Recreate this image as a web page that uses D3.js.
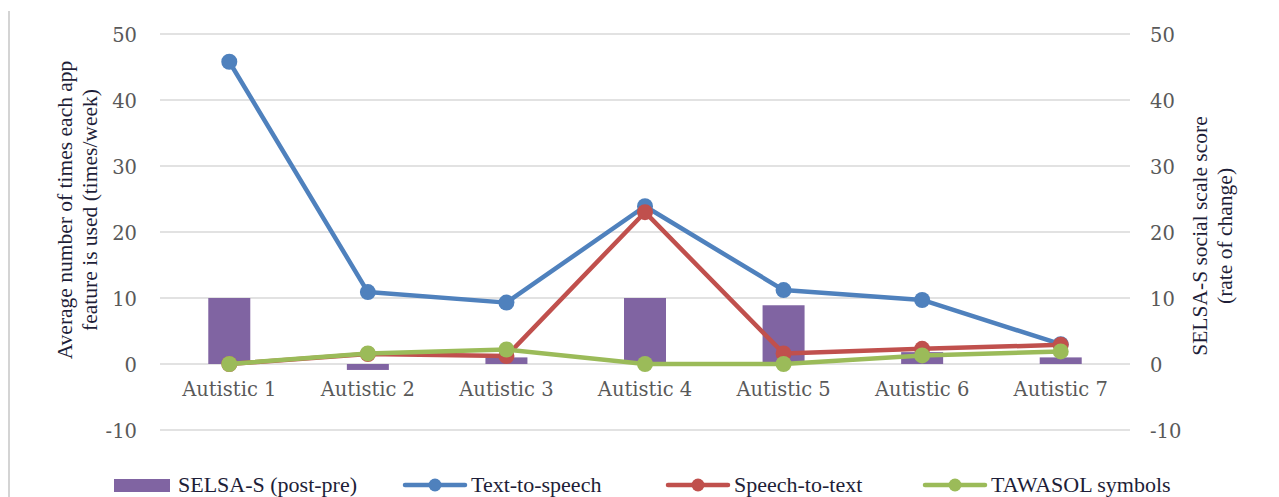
<!DOCTYPE html>
<html>
<head>
<meta charset="utf-8">
<script src="https://cdn.jsdelivr.net/npm/d3@7"></script>
<style>
  html, body { margin: 0; padding: 0; background: #ffffff; }
  svg { display: block; }
  .serif { font-family: "Liberation Serif", "Times New Roman", serif; }
  .tick-font { font-family: "DejaVu Serif"; }
</style>
</head>
<body>
<svg id="chart" width="1279" height="497"></svg>
<script>
// Participants
const categories = ["Autistic 1", "Autistic 2", "Autistic 3", "Autistic 4", "Autistic 5", "Autistic 6", "Autistic 7"];

// SELSA-S change (post - pre), right axis
const selsaChange = [10, -0.9, 1, 10, 8.9, 1.8, 1];

// Average weekly use of each app feature, left axis
const textToSpeech = [45.8, 10.9, 9.3, 23.9, 11.2, 9.7, 3.0];
const speechToText = [0, 1.5, 1.2, 23.0, 1.6, 2.3, 2.9];
const tawasolSymbols = [0, 1.6, 2.2, 0, 0, 1.3, 1.9];

const yTicks = [-10, 0, 10, 20, 30, 40, 50];

const lineSeries = [
  { name: "Text-to-speech", values: textToSpeech, color: "#4F81BD" },
  { name: "Speech-to-text", values: speechToText, color: "#C0504D" },
  { name: "TAWASOL symbols", values: tawasolSymbols, color: "#9BBB59" }
];
const barColor = "#8064A2";

const svg = d3.select("#chart");

const x = d3.scaleBand().domain(categories).range([160, 1130]).padding(0);
const yLeft = d3.scaleLinear().domain([-10, 50]).range([430, 34]);
const yRight = d3.scaleLinear().domain([-10, 50]).range([430, 34]);

// page border on the left
svg.append("line")
  .attr("x1", 9).attr("x2", 9).attr("y1", 11).attr("y2", 497)
  .attr("stroke", "#d4d4d4").attr("stroke-width", 2);

// gridlines
svg.append("g").selectAll("line").data(yTicks).join("line")
  .attr("x1", 160).attr("x2", 1130)
  .attr("y1", d => yLeft(d)).attr("y2", d => yLeft(d))
  .attr("stroke", "#d9d9d9").attr("stroke-width", 1.3);

const tickSize = 19.5;
const plainNumber = d => String(d);

// left axis labels
const leftAxis = d3.axisLeft(yLeft).tickValues(yTicks).tickFormat(plainNumber).tickSize(0).tickPadding(0);
const gl = svg.append("g").attr("transform", "translate(137,0)").call(leftAxis);
gl.select(".domain").remove();
gl.selectAll("text").attr("class", "tick-font").attr("font-size", tickSize)
  .attr("fill", "#595959").attr("dy", "0.36em");

// right axis labels
const rightAxis = d3.axisRight(yRight).tickValues(yTicks).tickFormat(plainNumber).tickSize(0).tickPadding(0);
const gr = svg.append("g").attr("transform", "translate(1150,0)").call(rightAxis);
gr.select(".domain").remove();
gr.selectAll("text").attr("class", "tick-font").attr("font-size", tickSize)
  .attr("fill", "#595959").attr("dy", "0.36em");

// category labels
const bottomAxis = d3.axisBottom(x).tickSize(0).tickPadding(0);
const gb = svg.append("g").attr("transform", "translate(0,382)").call(bottomAxis);
gb.select(".domain").remove();
gb.selectAll("text").attr("class", "tick-font").attr("font-size", tickSize)
  .attr("fill", "#595959").attr("dy", "0.74em");

// the axis groups carry their own font attributes; let the classes decide
svg.selectAll("g").attr("font-family", null);

// SELSA-S bars
const barW = 42;
svg.append("g").selectAll("rect").data(categories).join("rect")
  .attr("x", d => x(d) + x.bandwidth() / 2 - barW / 2)
  .attr("width", barW)
  .attr("y", (d, i) => yRight(Math.max(0, selsaChange[i])))
  .attr("height", (d, i) => Math.abs(yRight(selsaChange[i]) - yRight(0)))
  .attr("fill", barColor);

// feature usage lines
const line = d3.line()
  .x((d, i) => x(categories[i]) + x.bandwidth() / 2)
  .y(d => yLeft(d));

lineSeries.forEach(s => {
  const g = svg.append("g");
  g.append("path").datum(s.values)
    .attr("d", line).attr("fill", "none")
    .attr("stroke", s.color).attr("stroke-width", 4.5)
    .attr("stroke-linejoin", "round").attr("stroke-linecap", "round");
  g.selectAll("circle").data(s.values).join("circle")
    .attr("cx", (d, i) => x(categories[i]) + x.bandwidth() / 2)
    .attr("cy", d => yLeft(d))
    .attr("r", 8)
    .attr("fill", s.color);
});

// axis titles
const titleColor = "#1e1e38";
const leftTitle = svg.append("text")
  .attr("class", "serif")
  .attr("transform", "translate(72,210) rotate(-90)")
  .attr("text-anchor", "middle")
  .attr("font-size", 21.5)
  .attr("fill", titleColor);
leftTitle.append("tspan").attr("x", 0).attr("dy", 0).text("Average number of times each app");
leftTitle.append("tspan").attr("x", 0).attr("dy", 25).text("feature is used (times/week)");

const rightTitle = svg.append("text")
  .attr("class", "serif")
  .attr("transform", "translate(1207,236) rotate(-90)")
  .attr("text-anchor", "middle")
  .attr("font-size", 21.5)
  .attr("fill", titleColor);
rightTitle.append("tspan").attr("x", 0).attr("dy", 0).text("SELSA-S social scale score");
rightTitle.append("tspan").attr("x", 0).attr("dy", 25).text("(rate of change)");

// legend
const legendY = 485;
const legendFont = 22;
const legend = svg.append("g");
legend.append("rect").attr("x", 114).attr("y", legendY - 6).attr("width", 56).attr("height", 13)
  .attr("fill", barColor);
legend.append("text").attr("class", "serif").attr("x", 178).attr("y", legendY).attr("dy", "0.3em")
  .attr("font-size", legendFont).attr("fill", titleColor)
  .text("SELSA-S (post-pre)");

const legendX = [405, 668, 925];
lineSeries.forEach((s, i) => {
  const lx = legendX[i];
  legend.append("line").attr("x1", lx).attr("x2", lx + 60)
    .attr("y1", legendY).attr("y2", legendY)
    .attr("stroke", s.color).attr("stroke-width", 4.5).attr("stroke-linecap", "round");
  legend.append("circle").attr("cx", lx + 30).attr("cy", legendY).attr("r", 6.5).attr("fill", s.color);
  legend.append("text").attr("class", "serif").attr("x", lx + 66).attr("y", legendY).attr("dy", "0.3em")
    .attr("font-size", legendFont).attr("fill", titleColor)
    .text(s.name);
});
</script>
</body>
</html>
